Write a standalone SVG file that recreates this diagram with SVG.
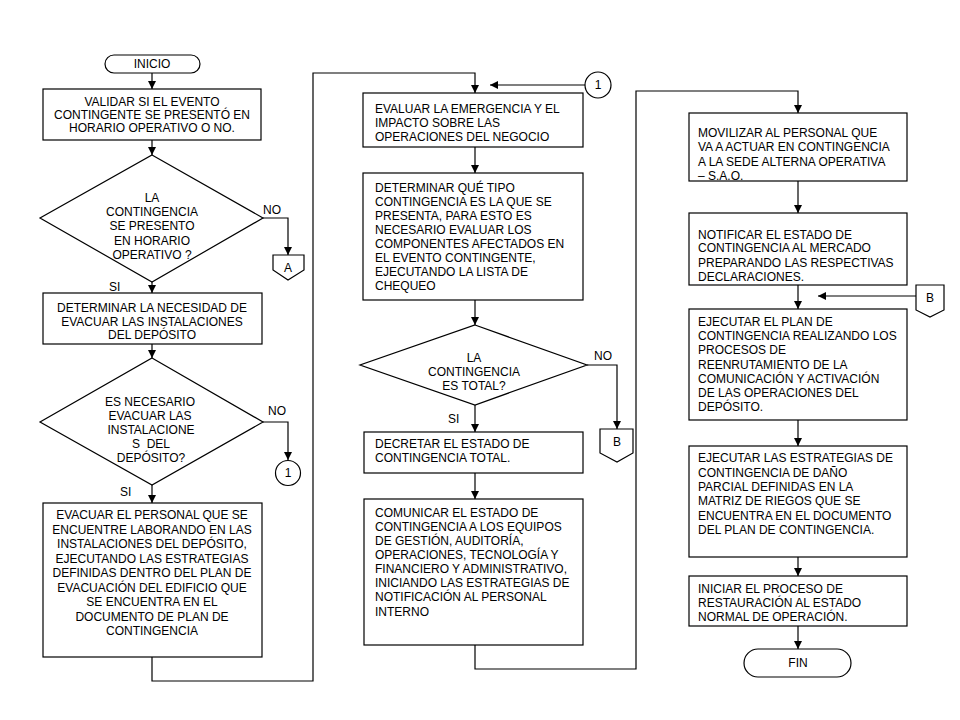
<svg xmlns="http://www.w3.org/2000/svg" width="960" height="720" viewBox="0 0 960 720">
<style>
.s{fill:#fff;stroke:#000;stroke-width:1.2}
.t{font-family:"Liberation Sans",Arial,sans-serif;font-size:12px;fill:#000}
.c{text-anchor:middle}
.l{fill:none;stroke:#000;stroke-width:1.2}
</style>
<defs>
<marker id="ah" markerUnits="userSpaceOnUse" markerWidth="9" markerHeight="8" refX="8" refY="4" orient="auto">
<path d="M0,0 L8,4 L0,8 z" fill="#000"/>
</marker>
</defs>
<rect width="960" height="720" fill="#fff"/>
<g id="connectors">
<line class="l" x1="152" y1="73" x2="152" y2="89" marker-end="url(#ah)"/>
<line class="l" x1="152" y1="140" x2="152" y2="155" marker-end="url(#ah)"/>
<polyline class="l" points="263,218 288,218 288,255" marker-end="url(#ah)"/>
<line class="l" x1="152" y1="282" x2="152" y2="293" marker-end="url(#ah)"/>
<line class="l" x1="152" y1="344" x2="152" y2="358" marker-end="url(#ah)"/>
<polyline class="l" points="263,422 288,422 288,460" marker-end="url(#ah)"/>
<line class="l" x1="152" y1="485" x2="152" y2="503" marker-end="url(#ah)"/>
<polyline class="l" points="152,657 152,681 313,681 313,73 475,73 475,93" marker-end="url(#ah)"/>
<line class="l" x1="585" y1="85" x2="490" y2="85" marker-end="url(#ah)"/>
<line class="l" x1="475" y1="147" x2="475" y2="173" marker-end="url(#ah)"/>
<line class="l" x1="475" y1="300" x2="475" y2="325" marker-end="url(#ah)"/>
<polyline class="l" points="587,365 617,365 617,429" marker-end="url(#ah)"/>
<line class="l" x1="475" y1="405" x2="475" y2="432" marker-end="url(#ah)"/>
<line class="l" x1="475" y1="473" x2="475" y2="499" marker-end="url(#ah)"/>
<polyline class="l" points="475,645 475,669 636,669 636,91 798,91 798,113" marker-end="url(#ah)"/>
<line class="l" x1="798" y1="181" x2="798" y2="213" marker-end="url(#ah)"/>
<line class="l" x1="798" y1="285" x2="798" y2="309" marker-end="url(#ah)"/>
<line class="l" x1="916" y1="296" x2="818" y2="296" marker-end="url(#ah)"/>
<line class="l" x1="798" y1="420" x2="798" y2="446" marker-end="url(#ah)"/>
<line class="l" x1="798" y1="557" x2="798" y2="576" marker-end="url(#ah)"/>
<line class="l" x1="798" y1="626" x2="798" y2="649" marker-end="url(#ah)"/>
</g>
<g id="labels" class="t">
<text x="263" y="214">NO</text>
<text x="109" y="291">SI</text>
<text x="268" y="415">NO</text>
<text x="120" y="496">SI</text>
<text x="594" y="360">NO</text>
<text x="448" y="423">SI</text>
</g>
<g id="inicio">
<rect class="s" x="105" y="55" width="95" height="18" rx="9"/>
<text class="t c" x="152" y="68">INICIO</text>
</g>
<g id="validar">
<rect class="s" x="43" y="89" width="218" height="51"/>
<text class="t c" x="152"><tspan x="152" y="106">VALIDAR SI EL EVENTO</tspan><tspan x="152" y="119">CONTINGENTE SE PRESENTÓ EN</tspan><tspan x="152" y="132">HORARIO OPERATIVO O NO.</tspan></text>
</g>
<g id="dec1">
<polygon class="s" points="152,155 263,218 152,282 40,218"/>
<text class="t c"><tspan x="152" y="202">LA</tspan><tspan x="152" y="216">CONTINGENCIA</tspan><tspan x="152" y="230">SE PRESENTO</tspan><tspan x="152" y="245">EN HORARIO</tspan><tspan x="152" y="259">OPERATIVO ?</tspan></text>
</g>
<g id="conA">
<polygon class="s" points="273,255 304,255 304,270 288,280 273,270"/>
<text class="t c" x="288" y="272">A</text>
</g>
<g id="determinar">
<rect class="s" x="43" y="293" width="219" height="51"/>
<text class="t c"><tspan x="152" y="312">DETERMINAR LA NECESIDAD DE</tspan><tspan x="152" y="325.5">EVACUAR LAS INSTALACIONES</tspan><tspan x="152" y="339">DEL DEPÓSITO</tspan></text>
</g>
<g id="dec2">
<polygon class="s" points="152,358 263,422 152,485 40,422"/>
<text class="t c" xml:space="preserve"><tspan x="150" y="406">ES NECESARIO</tspan><tspan x="150" y="420">EVACUAR LAS</tspan><tspan x="151" y="434">INSTALACIONE</tspan><tspan x="151" y="448">S  DEL</tspan><tspan x="151" y="462">DEPÓSITO?</tspan></text>
</g>
<g id="con1a">
<circle class="s" cx="288" cy="473" r="12.5"/>
<text class="t c" x="288" y="477">1</text>
</g>
<g id="evacuar">
<rect class="s" x="43" y="503" width="219" height="154"/>
<text class="t c"><tspan x="152" y="519">EVACUAR EL PERSONAL QUE SE</tspan><tspan x="152" y="533.5">ENCUENTRE LABORANDO EN LAS</tspan><tspan x="152" y="548">INSTALACIONES DEL DEPÓSITO,</tspan><tspan x="152" y="562.5">EJECUTANDO LAS ESTRATEGIAS</tspan><tspan x="152" y="577">DEFINIDAS DENTRO DEL PLAN DE</tspan><tspan x="152" y="591.5">EVACUACIÓN DEL EDIFICIO QUE</tspan><tspan x="152" y="606">SE ENCUENTRA EN EL</tspan><tspan x="152" y="620.5">DOCUMENTO DE PLAN DE</tspan><tspan x="152" y="635">CONTINGENCIA</tspan></text>
</g>
<g id="con1b">
<circle class="s" cx="598" cy="85" r="13"/>
<text class="t c" x="598" y="89">1</text>
</g>
<g id="evaluar">
<rect class="s" x="363" y="93" width="220" height="54"/>
<text class="t"><tspan x="375" y="113">EVALUAR LA EMERGENCIA Y EL</tspan><tspan x="375" y="127">IMPACTO SOBRE LAS</tspan><tspan x="375" y="141">OPERACIONES DEL NEGOCIO</tspan></text>
</g>
<g id="tipo">
<rect class="s" x="363" y="173" width="220" height="127"/>
<text class="t"><tspan x="375" y="192">DETERMINAR QUÉ TIPO</tspan><tspan x="375" y="206">CONTINGENCIA ES LA QUE SE</tspan><tspan x="375" y="220">PRESENTA, PARA ESTO ES</tspan><tspan x="375" y="234">NECESARIO EVALUAR LOS</tspan><tspan x="375" y="248">COMPONENTES AFECTADOS EN</tspan><tspan x="375" y="262">EL EVENTO CONTINGENTE,</tspan><tspan x="375" y="276">EJECUTANDO LA LISTA DE</tspan><tspan x="375" y="290">CHEQUEO</tspan></text>
</g>
<g id="dec3">
<polygon class="s" points="475,325 587,365 475,405 360,365"/>
<text class="t c"><tspan x="474" y="362">LA</tspan><tspan x="474" y="376">CONTINGENCIA</tspan><tspan x="474" y="390">ES TOTAL?</tspan></text>
</g>
<g id="conB1">
<polygon class="s" points="600,429 633,429 633,453 617,462 600,453"/>
<text class="t c" x="617" y="446">B</text>
</g>
<g id="decretar">
<rect class="s" x="364" y="432" width="219" height="41"/>
<text class="t"><tspan x="375" y="448">DECRETAR EL ESTADO DE</tspan><tspan x="375" y="462">CONTINGENCIA TOTAL.</tspan></text>
</g>
<g id="comunicar">
<rect class="s" x="364" y="499" width="219" height="146"/>
<text class="t"><tspan x="375" y="517">COMUNICAR EL ESTADO DE</tspan><tspan x="375" y="531">CONTINGENCIA A LOS EQUIPOS</tspan><tspan x="375" y="545">DE GESTIÓN, AUDITORÍA,</tspan><tspan x="375" y="559">OPERACIONES, TECNOLOGÍA Y</tspan><tspan x="375" y="573">FINANCIERO Y ADMINISTRATIVO,</tspan><tspan x="375" y="587">INICIANDO LAS ESTRATEGIAS DE</tspan><tspan x="375" y="601">NOTIFICACIÓN AL PERSONAL</tspan><tspan x="375" y="616">INTERNO</tspan></text>
</g>
<g id="movilizar">
<rect class="s" x="689" y="113" width="218" height="68"/>
<text class="t"><tspan x="698" y="137">MOVILIZAR AL PERSONAL QUE</tspan><tspan x="698" y="151">VA A ACTUAR EN CONTINGENCIA</tspan><tspan x="698" y="166">A LA SEDE ALTERNA OPERATIVA</tspan><tspan x="698" y="180">– S.A.O.</tspan></text>
</g>
<g id="notificar">
<rect class="s" x="689" y="213" width="218" height="72"/>
<text class="t"><tspan x="698" y="239">NOTIFICAR EL ESTADO DE</tspan><tspan x="698" y="252">CONTINGENCIA AL MERCADO</tspan><tspan x="698" y="267">PREPARANDO LAS RESPECTIVAS</tspan><tspan x="698" y="281">DECLARACIONES.</tspan></text>
</g>
<g id="conB2">
<polygon class="s" points="916,285 944,285 944,310 930,317 916,310"/>
<text class="t c" x="930" y="302">B</text>
</g>
<g id="ejecutar1">
<rect class="s" x="689" y="309" width="218" height="111"/>
<text class="t"><tspan x="698" y="326">EJECUTAR EL PLAN DE</tspan><tspan x="698" y="340">CONTINGENCIA REALIZANDO LOS</tspan><tspan x="698" y="354">PROCESOS DE</tspan><tspan x="698" y="369">REENRUTAMIENTO DE LA</tspan><tspan x="698" y="383">COMUNICACIÓN Y ACTIVACIÓN</tspan><tspan x="698" y="397">DE LAS OPERACIONES DEL</tspan><tspan x="698" y="411">DEPÓSITO.</tspan></text>
</g>
<g id="ejecutar2">
<rect class="s" x="689" y="446" width="218" height="111"/>
<text class="t"><tspan x="698" y="462">EJECUTAR LAS ESTRATEGIAS DE</tspan><tspan x="698" y="477">CONTINGENCIA DE DAÑO</tspan><tspan x="698" y="491">PARCIAL DEFINIDAS EN LA</tspan><tspan x="698" y="505">MATRIZ DE RIEGOS QUE SE</tspan><tspan x="698" y="520">ENCUENTRA EN EL DOCUMENTO</tspan><tspan x="698" y="534">DEL PLAN DE CONTINGENCIA.</tspan></text>
</g>
<g id="iniciar">
<rect class="s" x="689" y="576" width="218" height="50"/>
<text class="t"><tspan x="698" y="593">INICIAR EL PROCESO DE</tspan><tspan x="698" y="607">RESTAURACIÓN AL ESTADO</tspan><tspan x="698" y="621">NORMAL DE OPERACIÓN.</tspan></text>
</g>
<g id="fin">
<rect class="s" x="744" y="649" width="107" height="28" rx="14"/>
<text class="t c" x="798" y="667">FIN</text>
</g>
</svg>
